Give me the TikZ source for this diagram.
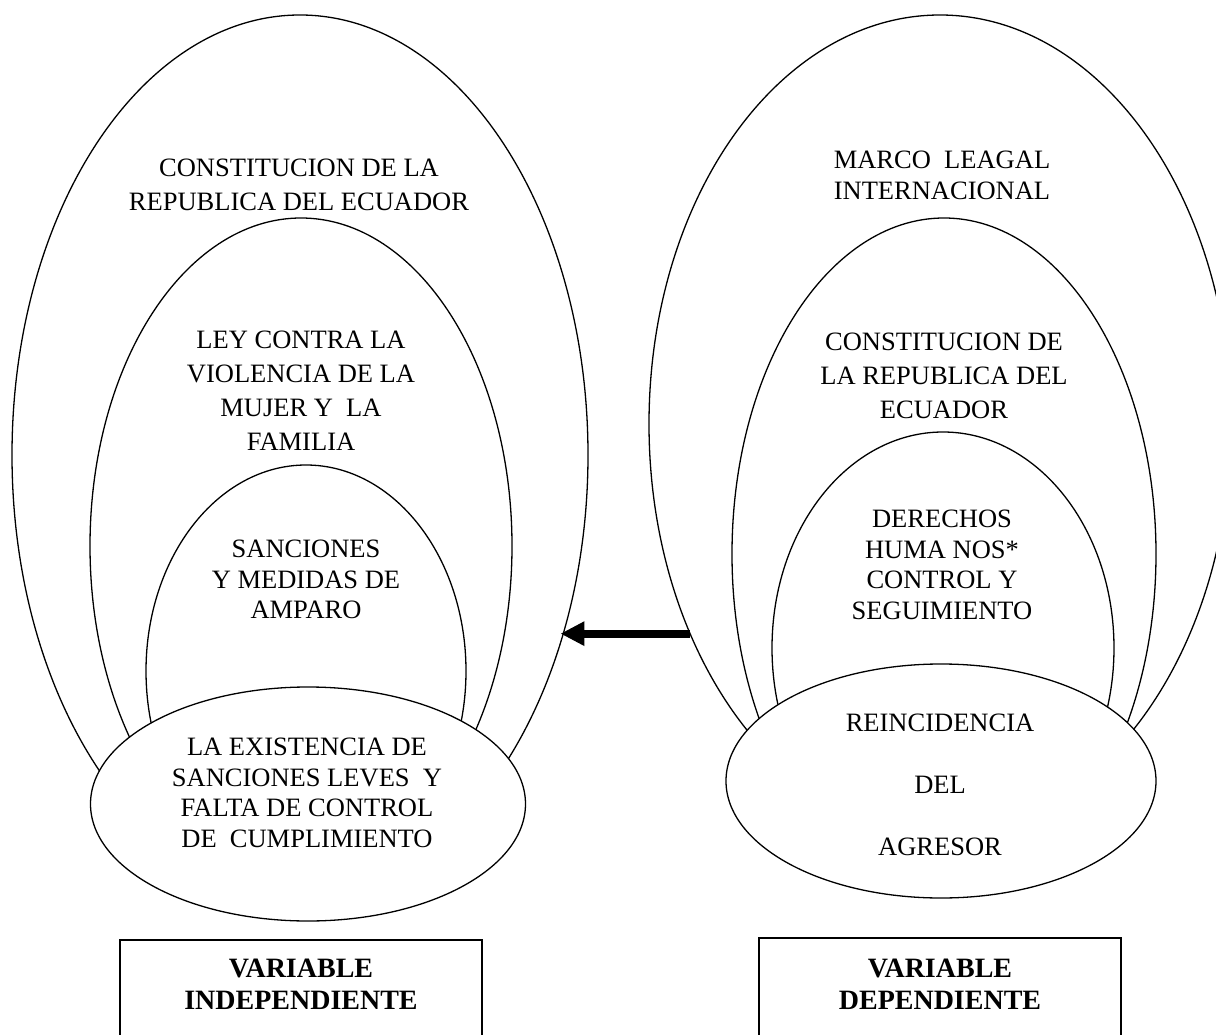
\documentclass[tikz,border=0pt]{standalone}
\usepackage{fontspec}
\setmainfont{Liberation Serif}
\usetikzlibrary{shapes.geometric,arrows.meta}
\begin{document}
\begin{tikzpicture}[x=1pt,y=-1pt,
  ell/.style={ellipse, draw, line width=1.3pt, inner sep=0pt, outer sep=0pt},
  botell/.style={ell, fill=white},
  txt/.style={anchor=north, inner sep=0pt, align=center},
  fa/.style={font=\fontsize{26.5}{34}\selectfont},
  fb/.style={font=\fontsize{26.5}{30.5}\selectfont},
  fc/.style={font=\fontsize{26.5}{62}\selectfont},
  varbox/.style={draw, line width=2pt, inner sep=0pt, outer sep=0pt, anchor=north, minimum width=362pt, minimum height=140pt},
  vartxt/.style={anchor=north, inner sep=0pt, align=center, font=\fontsize{28}{32}\selectfont\bfseries},
  bigarrow/.style={line width=8pt, -{Triangle[length=24pt,width=23pt]}, shorten >=-3pt}
]
\useasboundingbox (0,0) rectangle (1216,1035);
\clip (0,0) rectangle (1216,1035);

% left group
\node[ell, minimum width=576pt, minimum height=880pt] (lo) at (300,455) {};
\node[ell, minimum width=422pt, minimum height=656pt] (lm) at (301,546) {};
\node[ell, minimum width=320pt, minimum height=412pt] (li) at (306,671) {};
\node[botell, minimum width=435pt, minimum height=234pt] (lb) at (308,804) {};

% right group
\node[ell, minimum width=582pt, minimum height=818pt] (ro) at (940,424) {};
\node[ell, minimum width=424pt, minimum height=672pt] (rm) at (944,554) {};
\node[ell, minimum width=342pt, minimum height=432pt] (ri) at (943,648) {};
\node[botell, minimum width=430pt, minimum height=234pt] (rb) at (941,781) {};

% texts left
\node[txt, fa] (tlo) at (299,159) {CONSTITUCION DE LA\\REPUBLICA DEL ECUADOR};
\node[txt, fa] (tlm) at (301,331) {LEY CONTRA LA\\VIOLENCIA DE LA\\MUJER Y~ LA\\FAMILIA};
\node[txt, fb] (tli) at (306,540) {SANCIONES\\Y MEDIDAS DE\\AMPARO};
\node[txt, fb] (tlb) at (307,738) {LA EXISTENCIA DE\\SANCIONES LEVES~ Y\\FALTA DE CONTROL\\DE~ CUMPLIMIENTO};

% texts right
\node[txt, fb] (tro) at (942,151) {MARCO~ LEAGAL\\INTERNACIONAL};
\node[txt, fa] (trm) at (944,333) {CONSTITUCION DE\\LA REPUBLICA DEL\\ECUADOR};
\node[txt, fb] (tri) at (942,510) {DERECHOS\\HUMA NOS*\\CONTROL Y\\SEGUIMIENTO};
\node[txt, fc] (trb) at (940,714) {REINCIDENCIA\\DEL\\AGRESOR};

% arrow
\draw[bigarrow] (ro.220.2) -- (ro.220.2 -| lo.-34.2);

% variable boxes
\node[varbox] (bi) at (301,940) {};
\node[vartxt] (bit) at (301,958.5) {VARIABLE\\INDEPENDIENTE};
\node[varbox] (bd) at (940,938) {};
\node[vartxt] (bdt) at (940,958.5) {VARIABLE\\DEPENDIENTE};
\end{tikzpicture}
\end{document}
